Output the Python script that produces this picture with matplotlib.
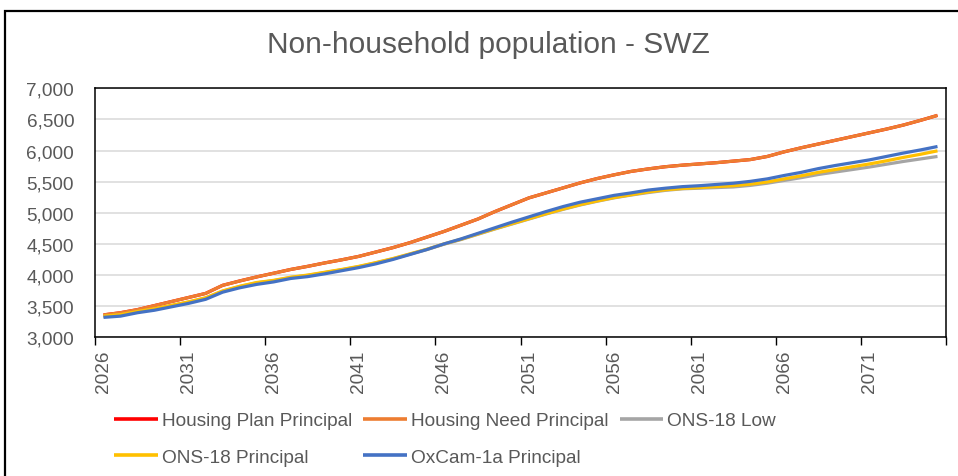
import numpy as np
import matplotlib
matplotlib.use("Agg")
import matplotlib.pyplot as plt
from matplotlib.patches import Rectangle
from matplotlib.ticker import FuncFormatter, FixedLocator

plt.rcParams['font.family'] = ['Liberation Sans', 'DejaVu Sans']

#%% DATA
years = list(range(2026, 2076))

housing_need = [3360, 3395, 3445, 3510, 3575, 3640, 3705, 3835, 3905, 3970,
                4030, 4090, 4140, 4195, 4245, 4300, 4370, 4440, 4520, 4610,
                4700, 4800, 4900, 5020, 5130, 5240, 5320, 5400, 5480, 5550,
                5610, 5665, 5705, 5740, 5765, 5785, 5805, 5830, 5855, 5905,
                5980, 6045, 6105, 6165, 6225, 6285, 6345, 6410, 6485, 6565]

# housing plan sits exactly under housing need in the source chart
housing_plan = list(housing_need)

ons18_principal = [3340, 3365, 3415, 3460, 3515, 3570, 3635, 3745, 3820, 3880,
                   3915, 3965, 4000, 4045, 4090, 4140, 4200, 4265, 4340, 4415,
                   4500, 4575, 4660, 4745, 4825, 4905, 4985, 5060, 5130, 5190,
                   5245, 5290, 5335, 5370, 5390, 5405, 5420, 5435, 5460, 5495,
                   5545, 5595, 5650, 5695, 5740, 5785, 5835, 5890, 5940, 5995]

ons18_low = [3335, 3360, 3410, 3455, 3510, 3565, 3630, 3740, 3815, 3875,
             3910, 3960, 3995, 4040, 4085, 4135, 4195, 4260, 4335, 4410,
             4495, 4570, 4655, 4740, 4820, 4900, 4980, 5055, 5125, 5185,
             5240, 5285, 5325, 5360, 5385, 5395, 5405, 5415, 5440, 5475,
             5520, 5565, 5615, 5655, 5695, 5735, 5780, 5825, 5865, 5905]

oxcam = [3320, 3340, 3395, 3435, 3490, 3545, 3610, 3725, 3795, 3850,
         3890, 3945, 3975, 4020, 4070, 4120, 4180, 4250, 4330, 4410,
         4500, 4580, 4670, 4760, 4850, 4935, 5020, 5100, 5170, 5225,
         5280, 5320, 5365, 5395, 5420, 5435, 5455, 5475, 5505, 5545,
         5600, 5650, 5710, 5760, 5805, 5850, 5905, 5960, 6010, 6065]

series_names = ["Housing Plan Principal", "Housing Need Principal", "ONS-18 Low",
                "ONS-18 Principal", "OxCam-1a Principal"]
series_colors = ["#FF0000", "#ED7D31", "#A5A5A5", "#FFC000", "#4472C4"]
series_values = [housing_plan, housing_need, ons18_low, ons18_principal, oxcam]

y_ticks = [3000, 3500, 4000, 4500, 5000, 5500, 6000, 6500, 7000]
x_labels = [2026, 2031, 2036, 2041, 2046, 2051, 2056, 2061, 2066, 2071]

#%% PLOT
txt_col = "#595959"
fig = plt.figure(figsize=(9.58, 4.77), dpi=100)
ax = fig.add_axes([95/958, 1-338.3/477, (946-95)/958, (338.3-89.3)/477])

handles = []
for name, col, vals in zip(series_names, series_colors, series_values):
    h, = ax.plot(years, vals, color=col, lw=2.3, label=name,
                 solid_capstyle='butt', solid_joinstyle='round')
    handles.append(h)

ax.set_xlim(2025.5, 2075.5)
ax.set_ylim(3000, 7000)
ax.set_yticks(y_ticks)
ax.yaxis.set_major_formatter(FuncFormatter(lambda v, p: f"{int(v):,}"))
ax.tick_params(axis='y', length=0, pad=15, labelsize=13.7, labelcolor=txt_col)
ax.grid(axis='y', color='#D9D9D9', lw=1.1)
ax.set_axisbelow(True)

# category boundaries get the tick marks, labels sit in the middle of the category
ax.xaxis.set_major_locator(FixedLocator(np.arange(2025.5, 2076, 5)))
ax.tick_params(axis='x', which='major', length=6, width=1, color='black',
               direction='out', labelbottom=False)
ax.set_xticks(x_labels, minor=True)
ax.set_xticklabels([str(v) for v in x_labels], minor=True, rotation=90)
ax.tick_params(axis='x', which='minor', length=0, pad=9, labelsize=13.7,
               labelcolor=txt_col)

for s in ax.spines.values():
    s.set_color('black')
    s.set_linewidth(1.1)

fig.text(488/958, 1-45/477, "Non-household population - SWZ", ha='center',
         va='center', fontsize=21.5, color=txt_col)

# excel fills legend row by row, matplotlib column by column
order = [0, 3, 1, 4, 2]
leg = fig.legend([handles[i] for i in order], [series_names[i] for i in order],
                 ncol=3, loc='center left', bbox_to_anchor=(114/958, 1-440/477),
                 bbox_transform=fig.transFigure, frameon=False, fontsize=13.7,
                 handlelength=2.3, handletextpad=0.2, columnspacing=0.6,
                 labelspacing=1.0, borderpad=0, borderaxespad=0,
                 labelcolor=txt_col)
for lh in leg.get_lines():
    lh.set_linewidth(2.6)

# outer chart border (cut off at right and bottom in the reference)
fig.patches.append(Rectangle((5/958, -0.1), 1.2, 1-12/477+0.1,
                             transform=fig.transFigure, fill=False,
                             edgecolor='black', lw=1.6, figure=fig))

fig.savefig("out.png", dpi=100)
